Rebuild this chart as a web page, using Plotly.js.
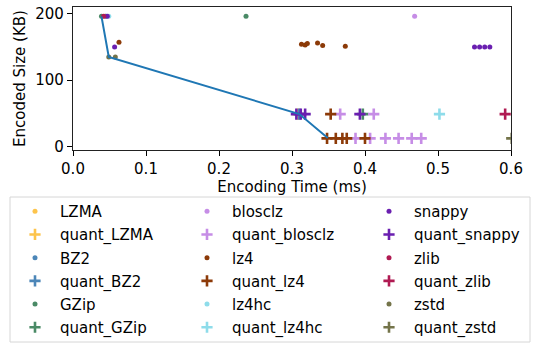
<!DOCTYPE html>
<html>
<head>
<meta charset="utf-8">
<script src="https://cdn.plot.ly/plotly-3.0.1.min.js"></script>
<style>
  body { margin: 0; background: #fff; }
  #chart { width: 540px; height: 346px; }
</style>
</head>
<body>
<div id="chart"></div>
<script>
// encoding time (ms) and encoded size (KB) per codec
const LZMA_t = [0.044];
const LZMA_s = [196];
const quant_LZMA_t = [0.308];
const quant_LZMA_s = [49];
const BZ2_t = [0.045];
const BZ2_s = [196];
const quant_BZ2_t = [0.310];
const quant_BZ2_s = [49];
const GZip_t = [0.039, 0.237];
const GZip_s = [196, 196];
const quant_GZip_t = [0.397];
const quant_GZip_s = [49];
const blosclz_t = [0.468];
const blosclz_s = [196];
const quant_blosclz_t = [0.366, 0.412, 0.387, 0.407, 0.428, 0.446, 0.464, 0.477];
const quant_blosclz_s = [49, 49, 12.5, 12.5, 12.5, 12.5, 12.5, 12.5];
const lz4_t = [0.063, 0.313, 0.318, 0.321, 0.335, 0.342, 0.373];
const lz4_s = [157, 154, 153, 155, 156, 152, 151];
const quant_lz4_t = [0.353, 0.348, 0.360, 0.369, 0.375, 0.400];
const quant_lz4_s = [49, 12.5, 12.5, 12.5, 12.5, 12.5];
const lz4hc_t = [0.049];
const lz4hc_s = [196];
const quant_lz4hc_t = [0.502];
const quant_lz4hc_s = [49];
const snappy_t = [0.047, 0.057, 0.550, 0.557, 0.564, 0.571];
const snappy_s = [196, 150, 150, 150, 150, 150];
const quant_snappy_t = [0.306, 0.312, 0.318, 0.393];
const quant_snappy_s = [49, 49, 49, 49];
const zlib_t = [0.042];
const zlib_s = [196];
const quant_zlib_t = [0.592];
const quant_zlib_s = [49];
const zstd_t = [0.049, 0.058];
const zstd_s = [135, 135];
const quant_zstd_t = [0.601];
const quant_zstd_s = [12.5];

// pareto front
const front_t = [0.039, 0.049, 0.310, 0.349];
const front_s = [196, 135, 49, 13];

// name, times, sizes, colour, quantized, legend column
const series = [
    ['LZMA', LZMA_t, LZMA_s, '#fdc44b', false, 'legend'],
    ['quant_LZMA', quant_LZMA_t, quant_LZMA_s, '#fdc44b', true, 'legend'],
    ['BZ2', BZ2_t, BZ2_s, '#4c86b8', false, 'legend'],
    ['quant_BZ2', quant_BZ2_t, quant_BZ2_s, '#4c86b8', true, 'legend'],
    ['GZip', GZip_t, GZip_s, '#4a8a66', false, 'legend'],
    ['quant_GZip', quant_GZip_t, quant_GZip_s, '#4a8a66', true, 'legend'],
    ['blosclz', blosclz_t, blosclz_s, '#c68de6', false, 'legend2'],
    ['quant_blosclz', quant_blosclz_t, quant_blosclz_s, '#c68de6', true, 'legend2'],
    ['lz4', lz4_t, lz4_s, '#8c3a08', false, 'legend2'],
    ['quant_lz4', quant_lz4_t, quant_lz4_s, '#8c3a08', true, 'legend2'],
    ['lz4hc', lz4hc_t, lz4hc_s, '#8edcea', false, 'legend2'],
    ['quant_lz4hc', quant_lz4hc_t, quant_lz4hc_s, '#8edcea', true, 'legend2'],
    ['snappy', snappy_t, snappy_s, '#6a1fb0', false, 'legend3'],
    ['quant_snappy', quant_snappy_t, quant_snappy_s, '#6a1fb0', true, 'legend3'],
    ['zlib', zlib_t, zlib_s, '#b01a52', false, 'legend3'],
    ['quant_zlib', quant_zlib_t, quant_zlib_s, '#b01a52', true, 'legend3'],
    ['zstd', zstd_t, zstd_s, '#74744a', false, 'legend3'],
    ['quant_zstd', quant_zstd_t, quant_zstd_s, '#74744a', true, 'legend3']
];

const traces = series.map(function (s) {
    return {
        x: s[1],
        y: s[2],
        name: s[0],
        legend: s[5],
        legendgroup: s[0],
        type: 'scatter',
        mode: 'markers',
        marker: s[4]
            ? { color: s[3], symbol: 'cross-thin', size: 8, line: { width: 2.6, color: s[3] } }
            : { color: s[3], symbol: 'circle', size: 5, line: { width: 0 } }
    };
});

traces.push({
    x: front_t,
    y: front_s,
    type: 'scatter',
    mode: 'lines',
    showlegend: false,
    line: { color: '#1f77b4', width: 2 }
});

const font = { family: 'DejaVu Sans, sans-serif', size: 15, color: '#000' };

// plot area in pixels, used to place the legend columns in paper units
const plotL = 73, plotW = 438, plotT = 7, plotH = 143;
const px2x = function (px) { return (px - plotL) / plotW; };
const py2y = function (py) { return (plotT + plotH - py) / plotH; };

function legendCol(left) {
    return {
        orientation: 'v',
        x: px2x(left),
        xanchor: 'left',
        y: py2y(195),
        yanchor: 'top',
        itemwidth: 40,
        font: font,
        bgcolor: 'rgba(0,0,0,0)',
        borderwidth: 0,
        tracegroupgap: 0.7
    };
}

const layout = {
    width: 540,
    height: 346,
    margin: { l: plotL, r: 540 - plotL - plotW, t: plotT, b: 346 - plotT - plotH, autoexpand: false },
    paper_bgcolor: '#fff',
    plot_bgcolor: '#fff',
    font: font,
    showlegend: true,
    xaxis: {
        range: [0, 0.6],
        tickvals: [0, 0.1, 0.2, 0.3, 0.4, 0.5, 0.6],
        tickformat: '.1f',
        ticks: 'outside',
        ticklen: 5,
        tickcolor: '#000',
        showgrid: false,
        zeroline: false,
        showline: true,
        linecolor: '#222',
        linewidth: 1.2,
        mirror: true,
        title: { text: 'Encoding Time (ms)', font: font, standoff: 2 }
    },
    yaxis: {
        range: [-5, 210],
        tickvals: [0, 100, 200],
        ticks: 'outside',
        ticklen: 5,
        tickcolor: '#000',
        showgrid: false,
        zeroline: false,
        showline: true,
        linecolor: '#222',
        linewidth: 1.2,
        mirror: true,
        title: { text: 'Encoded Size (KB)', font: font, standoff: 6 }
    },
    legend: legendCol(10),
    legend2: legendCol(182),
    legend3: legendCol(364),
    shapes: [{
        type: 'rect',
        xref: 'paper',
        yref: 'paper',
        x0: px2x(10),
        x1: px2x(530),
        y0: py2y(342),
        y1: py2y(197),
        line: { color: '#d6d6d6', width: 1 },
        fillcolor: 'rgba(0,0,0,0)'
    }]
};

Plotly.newPlot('chart', traces, layout, { displayModeBar: false, staticPlot: true });
</script>
</body>
</html>
